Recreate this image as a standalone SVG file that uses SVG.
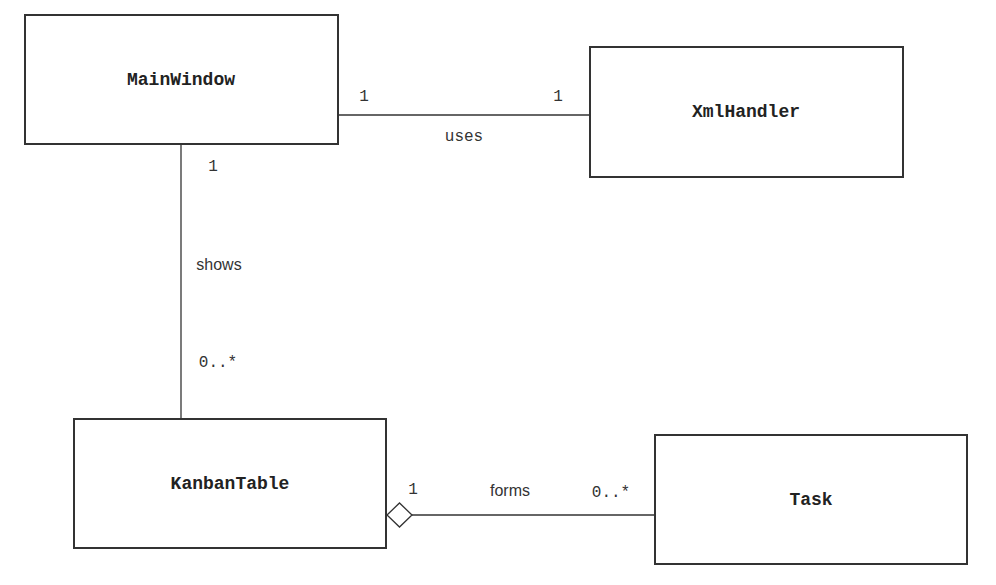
<svg xmlns="http://www.w3.org/2000/svg" width="996" height="585" viewBox="0 0 996 585">
<style>
.box{fill:#fff;stroke:#333;stroke-width:2}
.title{font-family:"Liberation Mono",monospace;font-weight:bold;font-size:18px;fill:#222;text-anchor:middle;dominant-baseline:central}
.mono{font-family:"Liberation Mono",monospace;font-size:16px;fill:#333;text-anchor:middle;dominant-baseline:central}
.sans{font-family:"Liberation Sans",sans-serif;font-size:16px;fill:#333;text-anchor:middle;dominant-baseline:central}
.line{stroke:#333;stroke-width:1.3;fill:none}
</style>
<rect width="996" height="585" fill="#fff"/>
<g id="connectors">
<line class="line" x1="338" y1="115" x2="590" y2="115"/>
<line class="line" x1="181" y1="144" x2="181" y2="419"/>
<line class="line" x1="412" y1="515" x2="655" y2="515"/>
<polygon points="387,515 399.5,503 412,515 399.5,527" fill="#fff" stroke="#333" stroke-width="1.3"/>
<text class="mono" x="364" y="97">1</text>
<text class="mono" x="558" y="97">1</text>
<text class="mono" x="464" y="137">uses</text>
<text class="mono" x="213" y="167">1</text>
<text class="sans" x="219" y="264">shows</text>
<text class="mono" x="218" y="363">0..*</text>
<text class="mono" x="413" y="490">1</text>
<text class="sans" x="510" y="490">forms</text>
<text class="mono" x="611" y="493">0..*</text>
</g>
<g id="MainWindow">
<rect class="box" x="25" y="15" width="313" height="129"/>
<text class="title" x="181" y="80">MainWindow</text>
</g>
<g id="XmlHandler">
<rect class="box" x="590" y="47" width="313" height="130"/>
<text class="title" x="746" y="112">XmlHandler</text>
</g>
<g id="KanbanTable">
<rect class="box" x="74" y="419" width="312" height="129"/>
<text class="title" x="230" y="484">KanbanTable</text>
</g>
<g id="Task">
<rect class="box" x="655" y="435" width="312" height="129"/>
<text class="title" x="811" y="500">Task</text>
</g>
</svg>
